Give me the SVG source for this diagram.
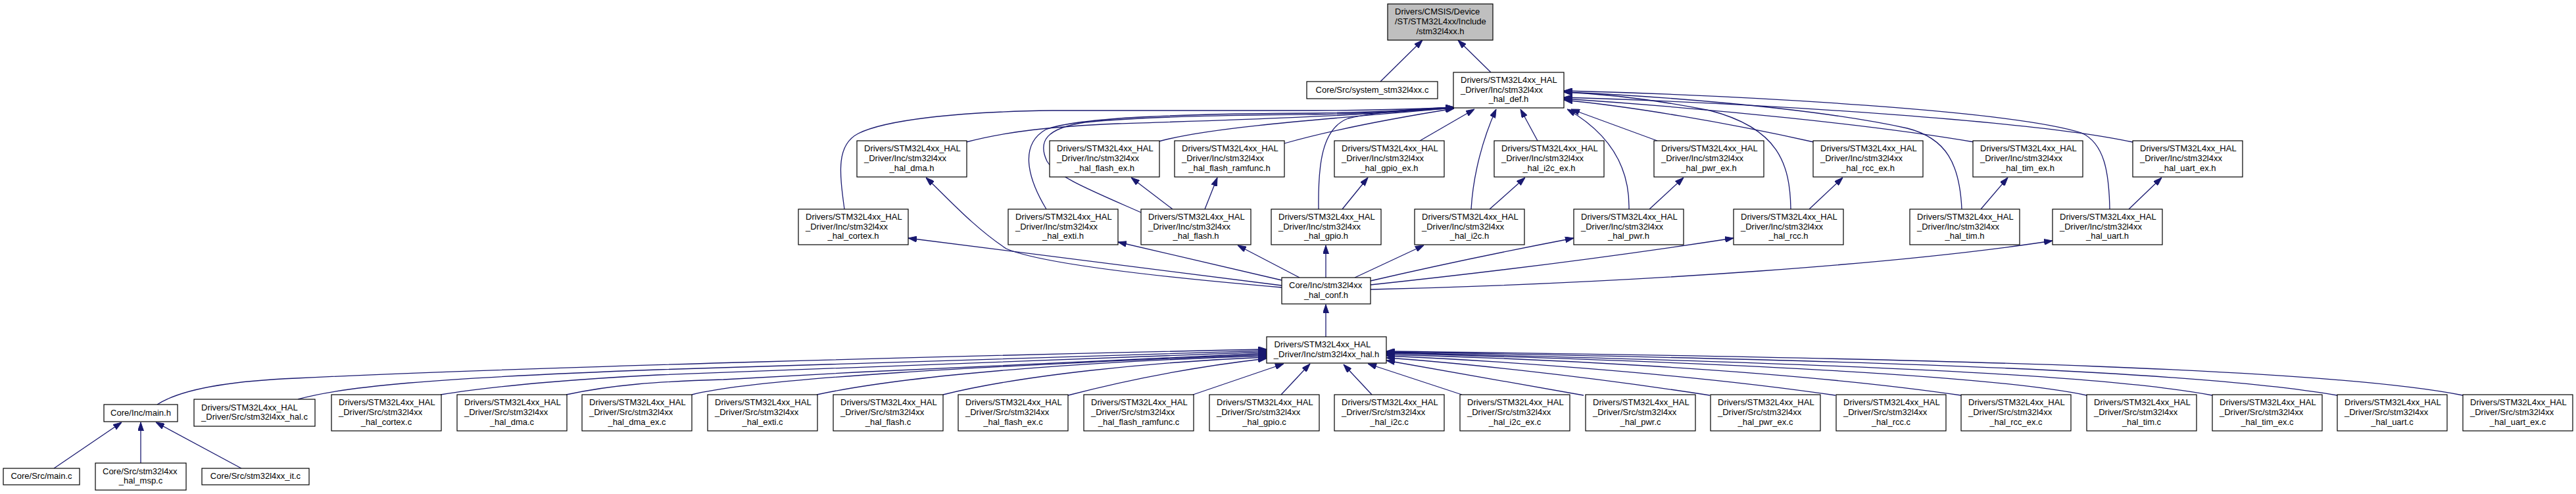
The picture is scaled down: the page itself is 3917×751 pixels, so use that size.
<svg xmlns="http://www.w3.org/2000/svg" width="3917" height="751" viewBox="0 0 3917 751">
<style>
.n rect{fill:#ffffff;stroke:#000000;stroke-width:1.2}
.n.root rect{fill:#bfbfbf}
.t{font-family:"Liberation Sans",Arial,Helvetica,sans-serif;font-size:13px;fill:#000000}
.c{text-anchor:middle}
.e path{fill:none;stroke:#191970;stroke-width:1.3;marker-end:url(#ah)}
</style>
<defs>
<marker id="ah" viewBox="0 0 13 9" refX="13" refY="4.5" markerWidth="13" markerHeight="9" markerUnits="userSpaceOnUse" orient="auto">
<path d="M0,0 L13,4.5 L0,9 z" fill="#191970" stroke="#191970" stroke-width="1"/>
</marker>
</defs>
<rect x="0" y="0" width="3917" height="751" fill="#ffffff"/>
<g id="connectors" class="e">
<path d="M2099,124 L2163,61"/>
<path d="M2267,110 L2217,61"/>
<path d="M1284,318 C1276,260 1272,220 1305,203 C1345,183 1450,170 1600,168 L2000,168 C2100,168 2170,165 2211,163"/>
<path d="M1591,318 C1562,270 1550,220 1590,197 C1640,178 1800,173 2000,172 C2100,171 2170,166 2211,163"/>
<path d="M1735,323 C1660,290 1605,268 1592,245 C1578,215 1590,195 1650,186 C1750,176 1900,175 2000,174 C2100,172 2170,167 2211,164"/>
<path d="M1469,216 C1530,200 1600,192 1700,188 C1850,183 2000,180 2211,164"/>
<path d="M1762,215 C1830,196 1950,186 2211,164"/>
<path d="M1953,218 C2030,196 2130,178 2211,165"/>
<path d="M2005,318 C2004,250 2010,195 2050,180 C2100,168 2170,165 2211,163"/>
<path d="M2159,214 L2242,166"/>
<path d="M2237,318 C2240,265 2255,210 2275,166"/>
<path d="M2338,214 L2312,166"/>
<path d="M2477,318 C2478,268 2460,210 2383,166"/>
<path d="M2520,214 L2389,166"/>
<path d="M2723,318 C2722,250 2705,195 2600,168 C2500,148 2420,142 2378,140"/>
<path d="M2758,216 C2620,185 2480,162 2378,152"/>
<path d="M2983,318 C2980,250 2960,210 2900,195 C2750,162 2500,145 2378,140"/>
<path d="M3002,216 C2850,190 2600,165 2378,150"/>
<path d="M3208,318 C3207,262 3200,218 3165,202 C3060,168 2650,145 2378,138"/>
<path d="M3243,216 C3100,185 2700,158 2378,148"/>
<path d="M1783,318 L1720,270"/>
<path d="M1832,318 L1851,270"/>
<path d="M2041,318 L2080,270"/>
<path d="M2265,318 L2319,270"/>
<path d="M2508,318 L2560,270"/>
<path d="M2751,318 L2802,270"/>
<path d="M3012,318 L3053,270"/>
<path d="M3237,318 L3287,270"/>
<path d="M1949,434 L1381,362"/>
<path d="M1949,437 C1750,420 1580,400 1530,378 C1480,345 1440,300 1408,270"/>
<path d="M1949,426 L1700,368"/>
<path d="M1976,422 L1882,373"/>
<path d="M2016,422 L2016,373"/>
<path d="M2060,422 L2165,373"/>
<path d="M2084,427 C2200,400 2320,376 2393,362"/>
<path d="M2084,433 C2300,410 2500,383 2636,362"/>
<path d="M2084,440 C2500,430 2900,400 3121,366"/>
<path d="M2016,512 L2016,463"/>
<path d="M239,615 C270,595 330,580 450,575 C800,558 1500,540 1926,531"/>
<path d="M453,607 C520,588 650,575 1000,562 C1400,548 1750,537 1926,533"/>
<path d="M670,600 C760,585 900,575 1000,570 C1400,552 1750,540 1926,535"/>
<path d="M861,600 C930,585 1000,580 1100,577 C1400,560 1750,543 1926,537"/>
<path d="M1052,600 C1150,575 1500,556 1926,539"/>
<path d="M1242,600 C1400,566 1700,548 1926,541"/>
<path d="M1434,600 C1550,571 1750,550 1926,543"/>
<path d="M1624,601 C1720,576 1830,556 1926,545"/>
<path d="M1814,600 L1952,553"/>
<path d="M1948,600 L1992,553"/>
<path d="M2086,600 L2043,554"/>
<path d="M2223,600 L2080,553"/>
<path d="M2408,601 L2108,548"/>
<path d="M2600,601 C2400,570 2200,550 2108,544"/>
<path d="M2791,601 C2550,566 2250,547 2108,541"/>
<path d="M2982,601 C2700,560 2300,544 2108,539"/>
<path d="M3173,601 C3050,575 2700,553 2108,537"/>
<path d="M3364,601 C3200,570 2800,552 2108,536"/>
<path d="M3554,601 C3350,566 2900,548 2108,535"/>
<path d="M3745,601 C3550,562 3000,545 2108,534"/>
<path d="M82,712 L185,642"/>
<path d="M214,704 L214,642"/>
<path d="M367,712 L237,642"/>
</g>
<g id="n_stm32l4xx_h" class="n root"><rect x="2110" y="6" width="160" height="55"/><text class="t" x="2121" y="22.4">Drivers/CMSIS/Device</text><text class="t" x="2121" y="37">/ST/STM32L4xx/Include</text><text class="t c" x="2190" y="51.6">/stm32l4xx.h</text></g>
<g id="n_system_c" class="n"><rect x="1987" y="124" width="199" height="26"/><text class="t c" x="2086.5" y="140.5">Core/Src/system_stm32l4xx.c</text></g>
<g id="n_hal_def_h" class="n"><rect x="2210" y="110" width="168" height="54"/><text class="t" x="2221" y="125.9">Drivers/STM32L4xx_HAL</text><text class="t" x="2221" y="140.5">_Driver/Inc/stm32l4xx</text><text class="t c" x="2294" y="155.1">_hal_def.h</text></g>
<g id="n_hal_dma_h" class="n"><rect x="1303" y="214" width="167" height="55"/><text class="t" x="1314" y="230.4">Drivers/STM32L4xx_HAL</text><text class="t" x="1314" y="245">_Driver/Inc/stm32l4xx</text><text class="t c" x="1386.5" y="259.6">_hal_dma.h</text></g>
<g id="n_hal_flash_ex_h" class="n"><rect x="1596" y="214" width="167" height="55"/><text class="t" x="1607" y="230.4">Drivers/STM32L4xx_HAL</text><text class="t" x="1607" y="245">_Driver/Inc/stm32l4xx</text><text class="t c" x="1679.5" y="259.6">_hal_flash_ex.h</text></g>
<g id="n_hal_flash_ramfunc_h" class="n"><rect x="1786" y="214" width="167" height="55"/><text class="t" x="1797" y="230.4">Drivers/STM32L4xx_HAL</text><text class="t" x="1797" y="245">_Driver/Inc/stm32l4xx</text><text class="t c" x="1869.5" y="259.6">_hal_flash_ramfunc.h</text></g>
<g id="n_hal_gpio_ex_h" class="n"><rect x="2029" y="214" width="167" height="55"/><text class="t" x="2040" y="230.4">Drivers/STM32L4xx_HAL</text><text class="t" x="2040" y="245">_Driver/Inc/stm32l4xx</text><text class="t c" x="2112.5" y="259.6">_hal_gpio_ex.h</text></g>
<g id="n_hal_i2c_ex_h" class="n"><rect x="2272" y="214" width="167" height="55"/><text class="t" x="2283" y="230.4">Drivers/STM32L4xx_HAL</text><text class="t" x="2283" y="245">_Driver/Inc/stm32l4xx</text><text class="t c" x="2355.5" y="259.6">_hal_i2c_ex.h</text></g>
<g id="n_hal_pwr_ex_h" class="n"><rect x="2515" y="214" width="167" height="55"/><text class="t" x="2526" y="230.4">Drivers/STM32L4xx_HAL</text><text class="t" x="2526" y="245">_Driver/Inc/stm32l4xx</text><text class="t c" x="2598.5" y="259.6">_hal_pwr_ex.h</text></g>
<g id="n_hal_rcc_ex_h" class="n"><rect x="2757" y="214" width="167" height="55"/><text class="t" x="2768" y="230.4">Drivers/STM32L4xx_HAL</text><text class="t" x="2768" y="245">_Driver/Inc/stm32l4xx</text><text class="t c" x="2840.5" y="259.6">_hal_rcc_ex.h</text></g>
<g id="n_hal_tim_ex_h" class="n"><rect x="3000" y="214" width="167" height="55"/><text class="t" x="3011" y="230.4">Drivers/STM32L4xx_HAL</text><text class="t" x="3011" y="245">_Driver/Inc/stm32l4xx</text><text class="t c" x="3083.5" y="259.6">_hal_tim_ex.h</text></g>
<g id="n_hal_uart_ex_h" class="n"><rect x="3243" y="214" width="167" height="55"/><text class="t" x="3254" y="230.4">Drivers/STM32L4xx_HAL</text><text class="t" x="3254" y="245">_Driver/Inc/stm32l4xx</text><text class="t c" x="3326.5" y="259.6">_hal_uart_ex.h</text></g>
<g id="n_hal_cortex_h" class="n"><rect x="1214" y="318" width="167" height="54"/><text class="t" x="1225" y="333.9">Drivers/STM32L4xx_HAL</text><text class="t" x="1225" y="348.5">_Driver/Inc/stm32l4xx</text><text class="t c" x="1297.5" y="363.1">_hal_cortex.h</text></g>
<g id="n_hal_exti_h" class="n"><rect x="1533" y="318" width="167" height="54"/><text class="t" x="1544" y="333.9">Drivers/STM32L4xx_HAL</text><text class="t" x="1544" y="348.5">_Driver/Inc/stm32l4xx</text><text class="t c" x="1616.5" y="363.1">_hal_exti.h</text></g>
<g id="n_hal_flash_h" class="n"><rect x="1735" y="318" width="167" height="54"/><text class="t" x="1746" y="333.9">Drivers/STM32L4xx_HAL</text><text class="t" x="1746" y="348.5">_Driver/Inc/stm32l4xx</text><text class="t c" x="1818.5" y="363.1">_hal_flash.h</text></g>
<g id="n_hal_gpio_h" class="n"><rect x="1933" y="318" width="167" height="54"/><text class="t" x="1944" y="333.9">Drivers/STM32L4xx_HAL</text><text class="t" x="1944" y="348.5">_Driver/Inc/stm32l4xx</text><text class="t c" x="2016.5" y="363.1">_hal_gpio.h</text></g>
<g id="n_hal_i2c_h" class="n"><rect x="2151" y="318" width="167" height="54"/><text class="t" x="2162" y="333.9">Drivers/STM32L4xx_HAL</text><text class="t" x="2162" y="348.5">_Driver/Inc/stm32l4xx</text><text class="t c" x="2234.5" y="363.1">_hal_i2c.h</text></g>
<g id="n_hal_pwr_h" class="n"><rect x="2393" y="318" width="167" height="54"/><text class="t" x="2404" y="333.9">Drivers/STM32L4xx_HAL</text><text class="t" x="2404" y="348.5">_Driver/Inc/stm32l4xx</text><text class="t c" x="2476.5" y="363.1">_hal_pwr.h</text></g>
<g id="n_hal_rcc_h" class="n"><rect x="2636" y="318" width="167" height="54"/><text class="t" x="2647" y="333.9">Drivers/STM32L4xx_HAL</text><text class="t" x="2647" y="348.5">_Driver/Inc/stm32l4xx</text><text class="t c" x="2719.5" y="363.1">_hal_rcc.h</text></g>
<g id="n_hal_tim_h" class="n"><rect x="2904" y="318" width="167" height="54"/><text class="t" x="2915" y="333.9">Drivers/STM32L4xx_HAL</text><text class="t" x="2915" y="348.5">_Driver/Inc/stm32l4xx</text><text class="t c" x="2987.5" y="363.1">_hal_tim.h</text></g>
<g id="n_hal_uart_h" class="n"><rect x="3121" y="318" width="167" height="54"/><text class="t" x="3132" y="333.9">Drivers/STM32L4xx_HAL</text><text class="t" x="3132" y="348.5">_Driver/Inc/stm32l4xx</text><text class="t c" x="3204.5" y="363.1">_hal_uart.h</text></g>
<g id="n_hal_conf_h" class="n"><rect x="1949" y="422" width="135" height="40"/><text class="t" x="1960" y="438.2">Core/Inc/stm32l4xx</text><text class="t c" x="2016.5" y="452.8">_hal_conf.h</text></g>
<g id="n_hal_h" class="n"><rect x="1926" y="512" width="182" height="40"/><text class="t" x="1937.5" y="528.2">Drivers/STM32L4xx_HAL</text><text class="t c" x="2017" y="542.8">_Driver/Inc/stm32l4xx_hal.h</text></g>
<g id="n_main_h" class="n"><rect x="158" y="615" width="112" height="26"/><text class="t c" x="214" y="631.5">Core/Inc/main.h</text></g>
<g id="n_hal_c" class="n"><rect x="295" y="607" width="184" height="41"/><text class="t" x="306" y="623.7">Drivers/STM32L4xx_HAL</text><text class="t c" x="387" y="638.3">_Driver/Src/stm32l4xx_hal.c</text></g>
<g id="n_hal_cortex_c" class="n"><rect x="504" y="600" width="167" height="55"/><text class="t" x="515" y="616.4">Drivers/STM32L4xx_HAL</text><text class="t" x="515" y="631">_Driver/Src/stm32l4xx</text><text class="t c" x="587.5" y="645.6">_hal_cortex.c</text></g>
<g id="n_hal_dma_c" class="n"><rect x="695" y="600" width="167" height="55"/><text class="t" x="706" y="616.4">Drivers/STM32L4xx_HAL</text><text class="t" x="706" y="631">_Driver/Src/stm32l4xx</text><text class="t c" x="778.5" y="645.6">_hal_dma.c</text></g>
<g id="n_hal_dma_ex_c" class="n"><rect x="885" y="600" width="167" height="55"/><text class="t" x="896" y="616.4">Drivers/STM32L4xx_HAL</text><text class="t" x="896" y="631">_Driver/Src/stm32l4xx</text><text class="t c" x="968.5" y="645.6">_hal_dma_ex.c</text></g>
<g id="n_hal_exti_c" class="n"><rect x="1076" y="600" width="167" height="55"/><text class="t" x="1087" y="616.4">Drivers/STM32L4xx_HAL</text><text class="t" x="1087" y="631">_Driver/Src/stm32l4xx</text><text class="t c" x="1159.5" y="645.6">_hal_exti.c</text></g>
<g id="n_hal_flash_c" class="n"><rect x="1267" y="600" width="167" height="55"/><text class="t" x="1278" y="616.4">Drivers/STM32L4xx_HAL</text><text class="t" x="1278" y="631">_Driver/Src/stm32l4xx</text><text class="t c" x="1350.5" y="645.6">_hal_flash.c</text></g>
<g id="n_hal_flash_ex_c" class="n"><rect x="1457" y="600" width="167" height="55"/><text class="t" x="1468" y="616.4">Drivers/STM32L4xx_HAL</text><text class="t" x="1468" y="631">_Driver/Src/stm32l4xx</text><text class="t c" x="1540.5" y="645.6">_hal_flash_ex.c</text></g>
<g id="n_hal_flash_ramfunc_c" class="n"><rect x="1648" y="600" width="167" height="55"/><text class="t" x="1659" y="616.4">Drivers/STM32L4xx_HAL</text><text class="t" x="1659" y="631">_Driver/Src/stm32l4xx</text><text class="t c" x="1731.5" y="645.6">_hal_flash_ramfunc.c</text></g>
<g id="n_hal_gpio_c" class="n"><rect x="1839" y="600" width="167" height="55"/><text class="t" x="1850" y="616.4">Drivers/STM32L4xx_HAL</text><text class="t" x="1850" y="631">_Driver/Src/stm32l4xx</text><text class="t c" x="1922.5" y="645.6">_hal_gpio.c</text></g>
<g id="n_hal_i2c_c" class="n"><rect x="2029" y="600" width="167" height="55"/><text class="t" x="2040" y="616.4">Drivers/STM32L4xx_HAL</text><text class="t" x="2040" y="631">_Driver/Src/stm32l4xx</text><text class="t c" x="2112.5" y="645.6">_hal_i2c.c</text></g>
<g id="n_hal_i2c_ex_c" class="n"><rect x="2220" y="600" width="167" height="55"/><text class="t" x="2231" y="616.4">Drivers/STM32L4xx_HAL</text><text class="t" x="2231" y="631">_Driver/Src/stm32l4xx</text><text class="t c" x="2303.5" y="645.6">_hal_i2c_ex.c</text></g>
<g id="n_hal_pwr_c" class="n"><rect x="2411" y="600" width="167" height="55"/><text class="t" x="2422" y="616.4">Drivers/STM32L4xx_HAL</text><text class="t" x="2422" y="631">_Driver/Src/stm32l4xx</text><text class="t c" x="2494.5" y="645.6">_hal_pwr.c</text></g>
<g id="n_hal_pwr_ex_c" class="n"><rect x="2601" y="600" width="167" height="55"/><text class="t" x="2612" y="616.4">Drivers/STM32L4xx_HAL</text><text class="t" x="2612" y="631">_Driver/Src/stm32l4xx</text><text class="t c" x="2684.5" y="645.6">_hal_pwr_ex.c</text></g>
<g id="n_hal_rcc_c" class="n"><rect x="2792" y="600" width="167" height="55"/><text class="t" x="2803" y="616.4">Drivers/STM32L4xx_HAL</text><text class="t" x="2803" y="631">_Driver/Src/stm32l4xx</text><text class="t c" x="2875.5" y="645.6">_hal_rcc.c</text></g>
<g id="n_hal_rcc_ex_c" class="n"><rect x="2982" y="600" width="167" height="55"/><text class="t" x="2993" y="616.4">Drivers/STM32L4xx_HAL</text><text class="t" x="2993" y="631">_Driver/Src/stm32l4xx</text><text class="t c" x="3065.5" y="645.6">_hal_rcc_ex.c</text></g>
<g id="n_hal_tim_c" class="n"><rect x="3173" y="600" width="167" height="55"/><text class="t" x="3184" y="616.4">Drivers/STM32L4xx_HAL</text><text class="t" x="3184" y="631">_Driver/Src/stm32l4xx</text><text class="t c" x="3256.5" y="645.6">_hal_tim.c</text></g>
<g id="n_hal_tim_ex_c" class="n"><rect x="3364" y="600" width="167" height="55"/><text class="t" x="3375" y="616.4">Drivers/STM32L4xx_HAL</text><text class="t" x="3375" y="631">_Driver/Src/stm32l4xx</text><text class="t c" x="3447.5" y="645.6">_hal_tim_ex.c</text></g>
<g id="n_hal_uart_c" class="n"><rect x="3554" y="600" width="167" height="55"/><text class="t" x="3565" y="616.4">Drivers/STM32L4xx_HAL</text><text class="t" x="3565" y="631">_Driver/Src/stm32l4xx</text><text class="t c" x="3637.5" y="645.6">_hal_uart.c</text></g>
<g id="n_hal_uart_ex_c" class="n"><rect x="3745" y="600" width="167" height="55"/><text class="t" x="3756" y="616.4">Drivers/STM32L4xx_HAL</text><text class="t" x="3756" y="631">_Driver/Src/stm32l4xx</text><text class="t c" x="3828.5" y="645.6">_hal_uart_ex.c</text></g>
<g id="n_main_c" class="n"><rect x="5" y="712" width="116" height="25"/><text class="t c" x="63" y="728">Core/Src/main.c</text></g>
<g id="n_hal_msp_c" class="n"><rect x="145" y="704" width="138" height="41"/><text class="t" x="156" y="720.7">Core/Src/stm32l4xx</text><text class="t c" x="214" y="735.3">_hal_msp.c</text></g>
<g id="n_it_c" class="n"><rect x="307" y="712" width="163" height="25"/><text class="t c" x="388.5" y="728">Core/Src/stm32l4xx_it.c</text></g>
</svg>
